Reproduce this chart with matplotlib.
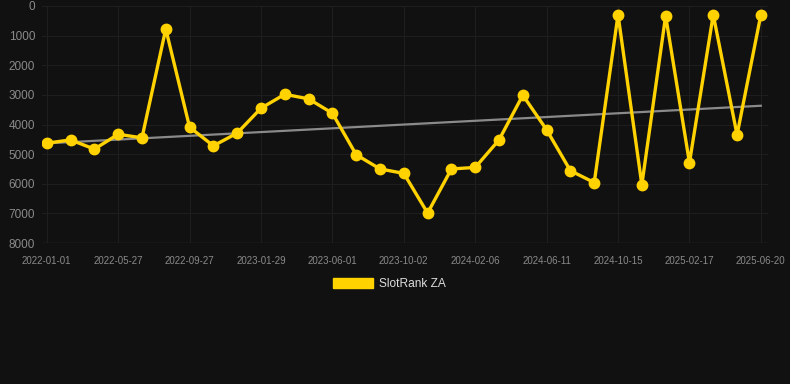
import numpy as np
import matplotlib
matplotlib.use("Agg")
import matplotlib.pyplot as plt
from matplotlib.patches import Patch

# Rank values (lower = better), one every ~6 weeks
ranks = [4630, 4520, 4830, 4330, 4450, 775, 4090, 4720, 4290, 3450,
         2980, 3135, 3620, 5020, 5500, 5650, 6990, 5500, 5450, 4520,
         3010, 4180, 5560, 5960, 295, 6035, 330, 5290, 295, 4350, 295]

# dates shown on the x axis (every third point)
tick_labels = ["2022-01-01", "2022-05-27", "2022-09-27", "2023-01-29", "2023-06-01",
               "2023-10-02", "2024-02-06", "2024-06-11", "2024-10-15", "2025-02-17",
               "2025-06-20"]

series_name = "SlotRank ZA"

bg = "#111111"
gold = "#FFD200"

x = np.arange(len(ranks))
y = np.array(ranks)

fig = plt.figure(figsize=(7.9, 3.84), dpi=100, facecolor=bg)
ax = fig.add_axes([42 / 790, 1 - 243 / 384, 726 / 790, 237 / 384])
ax.set_facecolor(bg)

# trend line (least squares)
k, b = np.polyfit(x, y, 1)
ax.plot(x, k * x + b, color="#8a8a8a", lw=1.6, zorder=2)

ax.plot(x, y, color=gold, lw=2.4, marker="o", markersize=7.5,
        solid_joinstyle="miter", zorder=3)

ax.set_xlim(-0.2, len(ranks) - 1 + 0.3)
ax.set_ylim(8000, 0)
ax.set_yticks(range(0, 8001, 1000))
ax.set_xticks(range(0, len(ranks), 3))
ax.set_xticklabels(tick_labels)

ax.grid(True, color="#1e1e1e", lw=0.8)
for s in ax.spines.values():
    s.set_visible(False)
ax.axhline(8000, color="#2c2c2c", lw=1)

ax.tick_params(axis="y", length=0, pad=5, labelsize=8.5, labelcolor="#8a8a8a")
ax.tick_params(axis="x", length=0, pad=9, labelsize=7, labelcolor="#8a8a8a")
for lab in ax.get_xticklabels() + ax.get_yticklabels():
    lab.set_fontfamily("Liberation Sans")

leg = fig.legend(handles=[Patch(facecolor=gold, edgecolor=gold)], labels=[series_name],
                 loc="center", bbox_to_anchor=(389.5 / 790, 1 - 284 / 384), frameon=False,
                 handlelength=3.3, handleheight=1.0, handletextpad=0.5,
                 prop={"family": "Liberation Sans", "size": 8.6})
for t in leg.get_texts():
    t.set_color("#dddddd")

fig.savefig("out.png", dpi=100, facecolor=bg)
